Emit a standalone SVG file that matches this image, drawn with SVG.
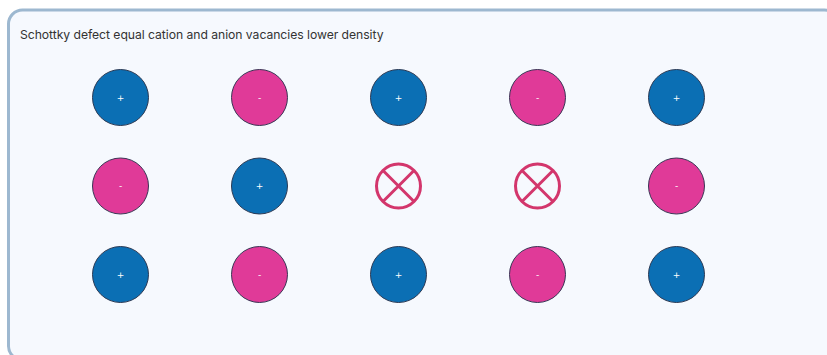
<svg xmlns="http://www.w3.org/2000/svg" width="827" height="355" viewBox="0 0 827 355">
<style>
.frame{fill:#f6f9fe;stroke:#9db8d0;stroke-width:3}
.title{font-family:Inter,"Liberation Sans",sans-serif;font-size:12.2px;fill:#333;letter-spacing:-0.05px}
.cat{fill:#0b6fb4;stroke:#2b3a55;stroke-width:1}
.an{fill:#e03a98;stroke:#3a3555;stroke-width:1}
.lbl{font-family:"DejaVu Sans",sans-serif;font-size:9px;fill:#fff;text-anchor:middle}
.vac{fill:none;stroke:#d3366c;stroke-width:3}
</style>
<rect class="frame" x="8.5" y="10" width="830" height="350" rx="14"/>
<text class="title" x="20" y="39">Schottky defect equal cation and anion vacancies lower density</text>
<g id="r1c1"><circle class="cat" cx="120.5" cy="97.5" r="28"/><text class="lbl" x="120.5" y="100.5">+</text></g>
<g id="r1c2"><circle class="an" cx="259.5" cy="97.5" r="28"/><text class="lbl" x="259.5" y="100.5">-</text></g>
<g id="r1c3"><circle class="cat" cx="398.5" cy="97.5" r="28"/><text class="lbl" x="398.5" y="100.5">+</text></g>
<g id="r1c4"><circle class="an" cx="537.5" cy="97.5" r="28"/><text class="lbl" x="537.5" y="100.5">-</text></g>
<g id="r1c5"><circle class="cat" cx="676.5" cy="97.5" r="28"/><text class="lbl" x="676.5" y="100.5">+</text></g>
<g id="r2c1"><circle class="an" cx="120.5" cy="186" r="28"/><text class="lbl" x="120.5" y="189">-</text></g>
<g id="r2c2"><circle class="cat" cx="259.5" cy="186" r="28"/><text class="lbl" x="259.5" y="189">+</text></g>
<g id="r2c3"><circle class="vac" cx="398.5" cy="186" r="22"/><path class="vac" d="M383 170.5L414 201.5M414 170.5L383 201.5"/></g>
<g id="r2c4"><circle class="vac" cx="537.5" cy="186" r="22"/><path class="vac" d="M522 170.5L553 201.5M553 170.5L522 201.5"/></g>
<g id="r2c5"><circle class="an" cx="676.5" cy="186" r="28"/><text class="lbl" x="676.5" y="189">-</text></g>
<g id="r3c1"><circle class="cat" cx="120.5" cy="274.5" r="28"/><text class="lbl" x="120.5" y="277.5">+</text></g>
<g id="r3c2"><circle class="an" cx="259.5" cy="274.5" r="28"/><text class="lbl" x="259.5" y="277.5">-</text></g>
<g id="r3c3"><circle class="cat" cx="398.5" cy="274.5" r="28"/><text class="lbl" x="398.5" y="277.5">+</text></g>
<g id="r3c4"><circle class="an" cx="537.5" cy="274.5" r="28"/><text class="lbl" x="537.5" y="277.5">-</text></g>
<g id="r3c5"><circle class="cat" cx="676.5" cy="274.5" r="28"/><text class="lbl" x="676.5" y="277.5">+</text></g>
<g id="connectors"/>
</svg>
